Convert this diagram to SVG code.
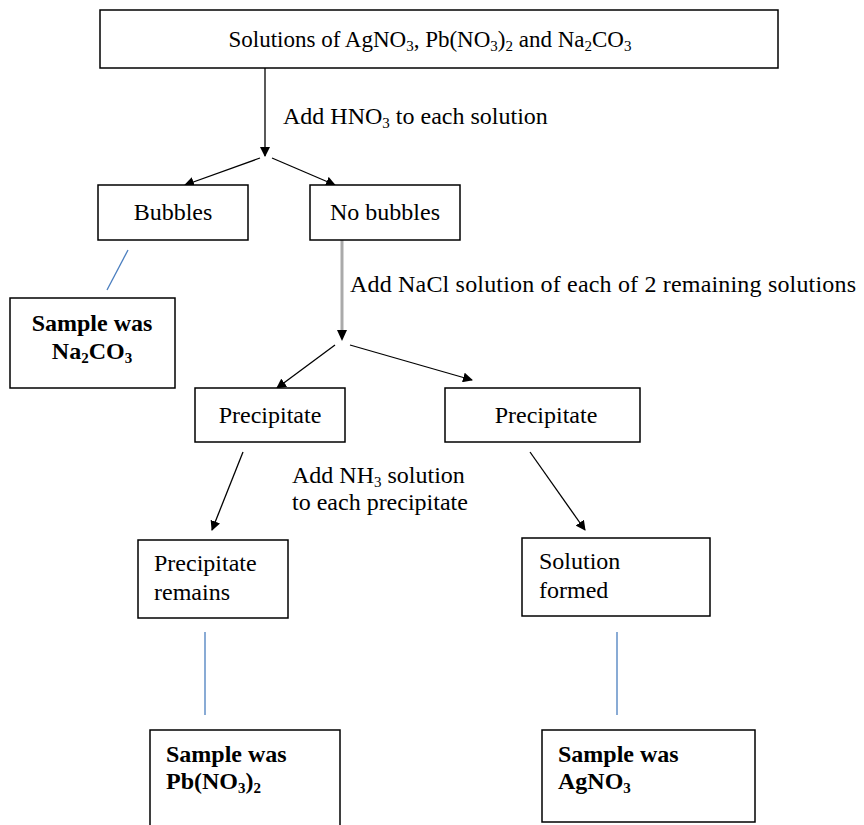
<svg xmlns="http://www.w3.org/2000/svg" width="864" height="825" viewBox="0 0 864 825">
<style>
.box{fill:#fff;stroke:#000;stroke-width:1.5}
.t{font-family:"Liberation Serif","Times New Roman",serif;font-size:24px;fill:#000}
.b{font-weight:bold}
.s{font-size:15px}
.arr{stroke:#000;stroke-width:1.3;fill:none;marker-end:url(#ah)}
.blue{stroke:#4a7ebf;stroke-width:1.3;fill:none}
</style>
<defs>
<marker id="ah" viewBox="0 0 10 10" refX="9" refY="5" markerWidth="10" markerHeight="10" markerUnits="userSpaceOnUse" orient="auto">
<path d="M0,0 L10,5 L0,10 z" fill="#000"/>
</marker>
</defs>
<rect width="864" height="825" fill="#fff"/>
<g id="connectors">
<line class="arr" x1="265" y1="68" x2="265" y2="156"/>
<line class="arr" x1="260" y1="158" x2="185" y2="185"/>
<line class="arr" x1="272" y1="158" x2="335" y2="185"/>
<line class="blue" x1="128" y1="250" x2="107" y2="290"/>
<line stroke="#aaa" stroke-width="3" x1="342" y1="240" x2="342" y2="330"/>
<path d="M337,330 L347,330 L342,341 z" fill="#000"/>
<line class="arr" x1="335" y1="345" x2="277" y2="388"/>
<line class="arr" x1="350" y1="345" x2="472" y2="380"/>
<line class="arr" x1="243" y1="452" x2="212" y2="530"/>
<line class="arr" x1="530" y1="452" x2="585" y2="530"/>
<line class="blue" x1="205" y1="632" x2="205" y2="715"/>
<line class="blue" x1="617" y1="632" x2="617" y2="715"/>
<text class="t" x="283" y="124">Add HNO<tspan class="s" dy="4">3</tspan><tspan dy="-4"> to each solution</tspan></text>
<text class="t" x="350" y="292" textLength="506">Add NaCl solution of each of 2 remaining solutions</text>
<text class="t" x="292" y="483">Add NH<tspan class="s" dy="4">3</tspan><tspan dy="-4"> solution</tspan></text>
<text class="t" x="292" y="510">to each precipitate</text>
</g>
<g id="top">
<rect class="box" x="100" y="10" width="678" height="58"/>
<text class="t" x="430" y="47" text-anchor="middle" style="font-size:23px">Solutions of AgNO<tspan class="s" dy="4">3</tspan><tspan dy="-4">, Pb(NO</tspan><tspan class="s" dy="4">3</tspan><tspan dy="-4">)</tspan><tspan class="s" dy="4">2</tspan><tspan dy="-4"> and Na</tspan><tspan class="s" dy="4">2</tspan><tspan dy="-4">CO</tspan><tspan class="s" dy="4">3</tspan></text>
</g>
<g id="bubbles">
<rect class="box" x="98" y="185" width="150" height="55"/>
<text class="t" x="173" y="220" text-anchor="middle">Bubbles</text>
</g>
<g id="nobubbles">
<rect class="box" x="310" y="185" width="150" height="55"/>
<text class="t" x="385" y="220" text-anchor="middle">No bubbles</text>
</g>
<g id="na2co3">
<rect class="box" x="10" y="298" width="165" height="90"/>
<text class="t b" x="92" y="331" text-anchor="middle">Sample was</text>
<text class="t b" x="92" y="359" text-anchor="middle">Na<tspan class="s" dy="4">2</tspan><tspan dy="-4">CO</tspan><tspan class="s" dy="4">3</tspan></text>
</g>
<g id="precip1">
<rect class="box" x="195" y="388" width="150" height="54"/>
<text class="t" x="270" y="423" text-anchor="middle">Precipitate</text>
</g>
<g id="precip2">
<rect class="box" x="445" y="388" width="195" height="54"/>
<text class="t" x="546" y="423" text-anchor="middle">Precipitate</text>
</g>
<g id="remains">
<rect class="box" x="138" y="540" width="150" height="78"/>
<text class="t" x="154" y="571">Precipitate</text>
<text class="t" x="154" y="600">remains</text>
</g>
<g id="formed">
<rect class="box" x="522" y="538" width="188" height="78"/>
<text class="t" x="539" y="569">Solution</text>
<text class="t" x="539" y="598">formed</text>
</g>
<g id="pb">
<rect class="box" x="150" y="730" width="190" height="100"/>
<text class="t b" x="166" y="762">Sample was</text>
<text class="t b" x="166" y="789">Pb(NO<tspan class="s" dy="4">3</tspan><tspan dy="-4">)</tspan><tspan class="s" dy="4">2</tspan></text>
</g>
<g id="ag">
<rect class="box" x="542" y="730" width="213" height="92"/>
<text class="t b" x="558" y="762">Sample was</text>
<text class="t b" x="558" y="789">AgNO<tspan class="s" dy="4">3</tspan></text>
</g>
</svg>
